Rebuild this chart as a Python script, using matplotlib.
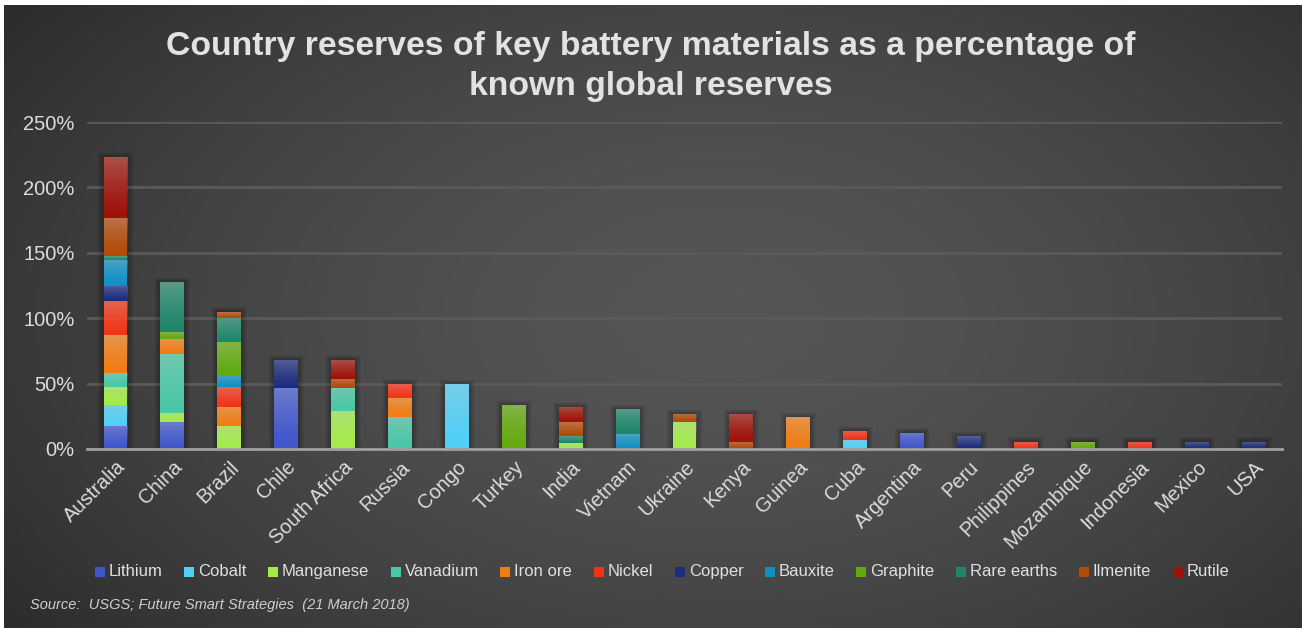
import numpy as np
import matplotlib
matplotlib.use("Agg")
import matplotlib.pyplot as plt
from matplotlib.patches import Rectangle
from matplotlib.ticker import FuncFormatter

plt.rcParams['font.family'] = ['Liberation Sans', 'DejaVu Sans']

countries = ['Australia', 'China', 'Brazil', 'Chile', 'South Africa', 'Russia', 'Congo',
             'Turkey', 'India', 'Vietnam', 'Ukraine', 'Kenya', 'Guinea', 'Cuba',
             'Argentina', 'Peru', 'Philippines', 'Mozambique', 'Indonesia', 'Mexico', 'USA']

materials = ['Lithium', 'Cobalt', 'Manganese', 'Vanadium', 'Iron ore', 'Nickel',
             'Copper', 'Bauxite', 'Graphite', 'Rare earths', 'Ilmenite', 'Rutile']

#            Aus   Chn   Bra   Chl   SAf   Rus   Con   Tur   Ind   Vie   Ukr   Ken   Gui   Cub   Arg   Per   Phi   Moz   Ido   Mex   USA
lithium   = [17.6, 20.6, 0,    46.6, 0,    0,    0,    0,    0,    0,    0,    0,    0,    0,    12.6, 0,    0,    0,    0,    0,    0]
cobalt    = [15.8, 0,    0,    0,    0,    0,    49.5, 0,    0,    0,    0,    0,    0,    7.0,  0,    0,    0,    0,    0,    0,    0]
manganese = [14.0, 7.0,  17.6, 0,    29.2, 0,    0,    0,    4.6,  0,    20.5, 0,    0,    0,    0,    0,    0,    0,    0,    0,    0]
vanadium  = [10.7, 45.0, 0,    0,    17.6, 24.5, 0,    0,    0,    0,    0,    0,    0,    0,    0,    0,    0,    0,    0,    0,    0]
iron_ore  = [29.0, 11.5, 14.5, 0,    0,    14.5, 0,    0,    0,    0,    0,    0,    24.3, 0,    0,    0,    0,    0,    0,    0,    0]
nickel    = [26.0, 0,    15.0, 0,    0,    11.0, 0,    0,    0,    0,    0,    0,    0,    7.0,  0,    0,    5.7,  0,    5.7,  0,    0]
copper    = [11.5, 0,    0,    21.5, 0,    0,    0,    0,    0,    0,    0,    0,    0,    0,    0,    9.8,  0,    0,    0,    5.7,  5.7]
bauxite   = [20.0, 0,    9.0,  0,    0,    0,    0,    0,    0,    11.2, 0,    0,    0,    0,    0,    0,    0,    0,    0,    0,    0]
graphite  = [0,    5.3,  26.0, 0,    0,    0,    0,    33.6, 0,    0,    0,    0,    0,    0,    0,    0,    0,    5.7,  0,    0,    0]
rare_earths = [3.0, 38.0, 18.4, 0,   0,    0,    0,    0,    5.3,  19.0, 0,    0,    0,    0,    0,    0,    0,    0,    0,    0,    0]
ilmenite  = [29.0, 0,    4.5,  0,    7.0,  0,    0,    0,    10.5, 0,    6.5,  5.5,  0,    0,    0,    0,    0,    0,    0,    0,    0]
rutile    = [46.6, 0,    0,    0,    14.5, 0,    0,    0,    11.7, 0,    0,    21.5, 0,    0,    0,    0,    0,    0,    0,    0,    0]

series = [lithium, cobalt, manganese, vanadium, iron_ore, nickel, copper,
          bauxite, graphite, rare_earths, ilmenite, rutile]

colors = ['#3f55cc', '#50d0f8', '#a2ec48', '#48c8a6', '#f27c12', '#f23416',
          '#1b2c7e', '#0f90c4', '#62aa0c', '#1e866a', '#b24a08', '#9e1208']

yticks = [0, 50, 100, 150, 200, 250]

W, H = 1302, 628
fig = plt.figure(figsize=(W / 100, H / 100), dpi=100, facecolor='white')

# background radial gradient
bg = fig.add_axes([4 / W, 0, 1 - 4 / W, 1 - 5 / H], zorder=-10)
yy, xx = np.mgrid[0:300, 0:600]
cx, cy = 330, 150
r = np.sqrt(((xx - cx) / 420.0) ** 2 + ((yy - cy) / 260.0) ** 2)
val = 0.335 - 0.17 * np.clip(r, 0, 1.4) ** 1.6
val = np.clip(val, 0.13, 0.4)
bg.imshow(np.dstack([val, val, val]), aspect='auto', extent=(0, 1, 0, 1), origin='upper',
          interpolation='bilinear')
bg.set_axis_off()

ax = fig.add_axes([87 / W, (H - 449) / H, 1195 / W, 327 / H])
ax.set_facecolor('none')
x = np.arange(len(countries))
width = 0.42

# soft shadow behind bars
totals = np.sum(np.array(series), axis=0)
for k in range(1, 13):
    ax.bar(x, totals + k * 0.3, width=width + k * 0.018, color='black', alpha=0.018,
           zorder=1, linewidth=0)

bottom = np.zeros(len(countries))
grad = np.zeros((64, 1, 4))
t = np.linspace(0, 1, 64)  # top -> bottom
grad[:, 0, :3] = 0.78
grad[:, 0, 3] = 0.34 * (1 - t) ** 1.3
for vals, col, name in zip(series, colors, materials):
    vals = np.array(vals, dtype=float)
    bars = ax.bar(x, vals, width=width, bottom=bottom, color=col, zorder=3,
                  linewidth=0, label=name)
    for p in bars:
        if p.get_height() <= 0:
            continue
        x0, y0 = p.get_x(), p.get_y()
        im = ax.imshow(grad, extent=(x0, x0 + p.get_width(), y0, y0 + p.get_height()),
                       aspect='auto', origin='upper', zorder=4, interpolation='bilinear')
        im.set_clip_path(p)
    bottom += vals

ax.set_xlim(-0.5, len(countries) - 0.5)
ax.set_ylim(0, 250)
ax.set_aspect('auto')
ax.set_yticks(yticks)
ax.yaxis.set_major_formatter(FuncFormatter(lambda v, _: f"{int(v)}%"))
ax.grid(axis='y', color='#5a5a5a', linewidth=2, zorder=0)
ax.set_axisbelow(True)
for s in ['top', 'right', 'left']:
    ax.spines[s].set_visible(False)
ax.spines['bottom'].set_color('#a0a0a0')
ax.spines['bottom'].set_linewidth(2)
ax.spines['bottom'].set_zorder(6)
ax.tick_params(axis='both', length=0, colors='#dcdcdc', labelsize=14.5)
ax.tick_params(axis='y', pad=9)
ax.set_xticks(x)
ax.set_xticklabels(countries, rotation=45, ha='right', va='top', rotation_mode='anchor')
ax.tick_params(axis='x', pad=6)

fig.text(0.5, 1 - 47 / H, 'Country reserves of key battery materials as a percentage of',
         ha='center', va='center', fontsize=24.3, fontweight='bold', color='#e2e2e2')
fig.text(0.5, 1 - 87 / H, 'known global reserves',
         ha='center', va='center', fontsize=24.3, fontweight='bold', color='#e2e2e2')

# manual legend (one row, baseline aligned)
renderer = fig.canvas.get_renderer()
box, gap_txt, gap_item = 10, 4, 21.5
leg_y = H - 572
texts = []
widths = []
for m in materials:
    tt = fig.text(0, 0, m, fontsize=12, color='#e0e0e0', va='center', ha='left')
    texts.append(tt)
    widths.append(tt.get_window_extent(renderer).width)
total_w = sum(box + gap_txt + w for w in widths) + gap_item * (len(materials) - 1)
xpos = 662 - total_w / 2
for tt, w, c in zip(texts, widths, colors):
    fig.add_artist(Rectangle(((xpos) / W, (leg_y - box / 2) / H), box / W, box / H,
                             transform=fig.transFigure, facecolor=c, edgecolor='none'))
    tt.set_position(((xpos + box + gap_txt) / W, (leg_y + 0.5) / H))
    xpos += box + gap_txt + w + gap_item

fig.text(30 / W, 1 - 605 / H, 'Source:  USGS; Future Smart Strategies  (21 March 2018)',
         ha='left', va='center', fontsize=10.5, style='italic', color='#cfcfcf')

fig.savefig('out.png', dpi=100, facecolor=fig.get_facecolor())
